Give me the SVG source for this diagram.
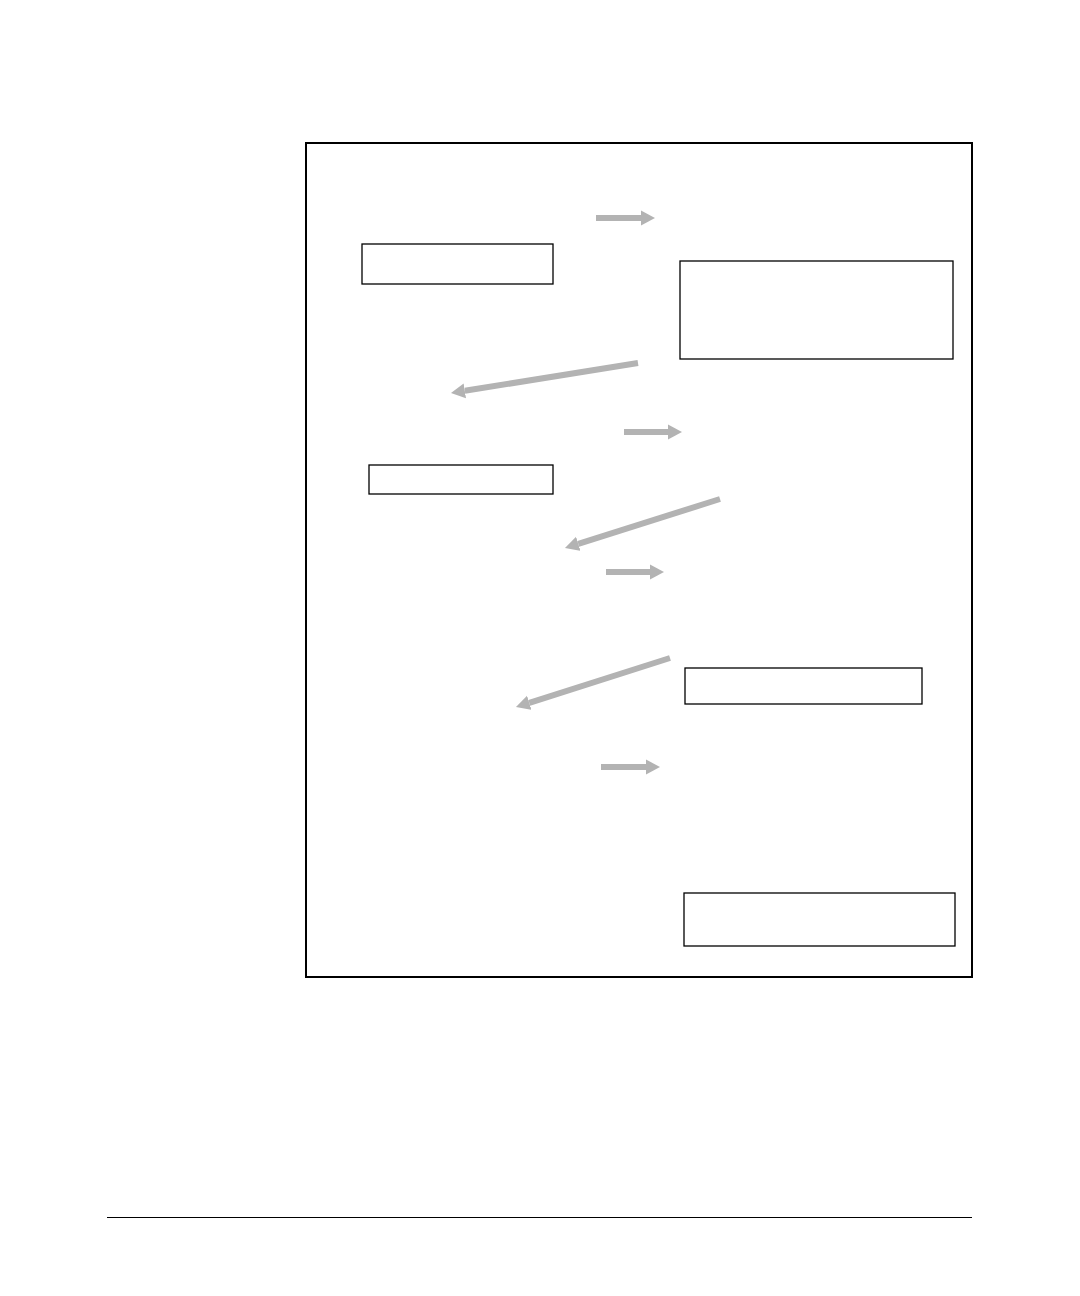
<svg xmlns="http://www.w3.org/2000/svg" width="1080" height="1296" viewBox="0 0 1080 1296">
  <style>
    .frame { fill: none; stroke: #000; stroke-width: 2; }
    .box { fill: #fff; stroke: #000; stroke-width: 1.3; }
    .arrow { stroke: #b3b3b3; stroke-width: 6; fill: none; marker-end: url(#head); }
    .rule { stroke: #000; stroke-width: 1; }
  </style>
  <defs>
    <marker id="head" markerUnits="userSpaceOnUse" markerWidth="15" markerHeight="16" refX="0" refY="7.5" orient="auto" viewBox="0 0 15 15">
      <path d="M0,0 L14,7.5 L0,15 z" fill="#b3b3b3"/>
    </marker>
  </defs>
  <rect x="0" y="0" width="1080" height="1296" fill="#fff"/>
  <rect id="frame" class="frame" x="306" y="143" width="666" height="834"/>
  <g id="node1"><rect class="box" x="362" y="244" width="191" height="40"/></g>
  <g id="node2"><rect class="box" x="680" y="261" width="273" height="98"/></g>
  <g id="node3"><rect class="box" x="369" y="465" width="184" height="29"/></g>
  <g id="node4"><rect class="box" x="685" y="668" width="237" height="36"/></g>
  <g id="node5"><rect class="box" x="684" y="893" width="271" height="53"/></g>
  <g id="connectors">
    <line class="arrow" x1="596" y1="218" x2="641" y2="218"/>
    <line class="arrow" x1="638" y1="363" x2="464.8" y2="390.8"/>
    <line class="arrow" x1="624" y1="432" x2="668" y2="432"/>
    <line class="arrow" x1="720" y1="499" x2="578.3" y2="543.8"/>
    <line class="arrow" x1="606" y1="572" x2="650" y2="572"/>
    <line class="arrow" x1="670" y1="658" x2="529.3" y2="702.8"/>
    <line class="arrow" x1="601" y1="767" x2="646" y2="767"/>
  </g>
  <line class="rule" x1="107" y1="1217.5" x2="972" y2="1217.5"/>
</svg>
